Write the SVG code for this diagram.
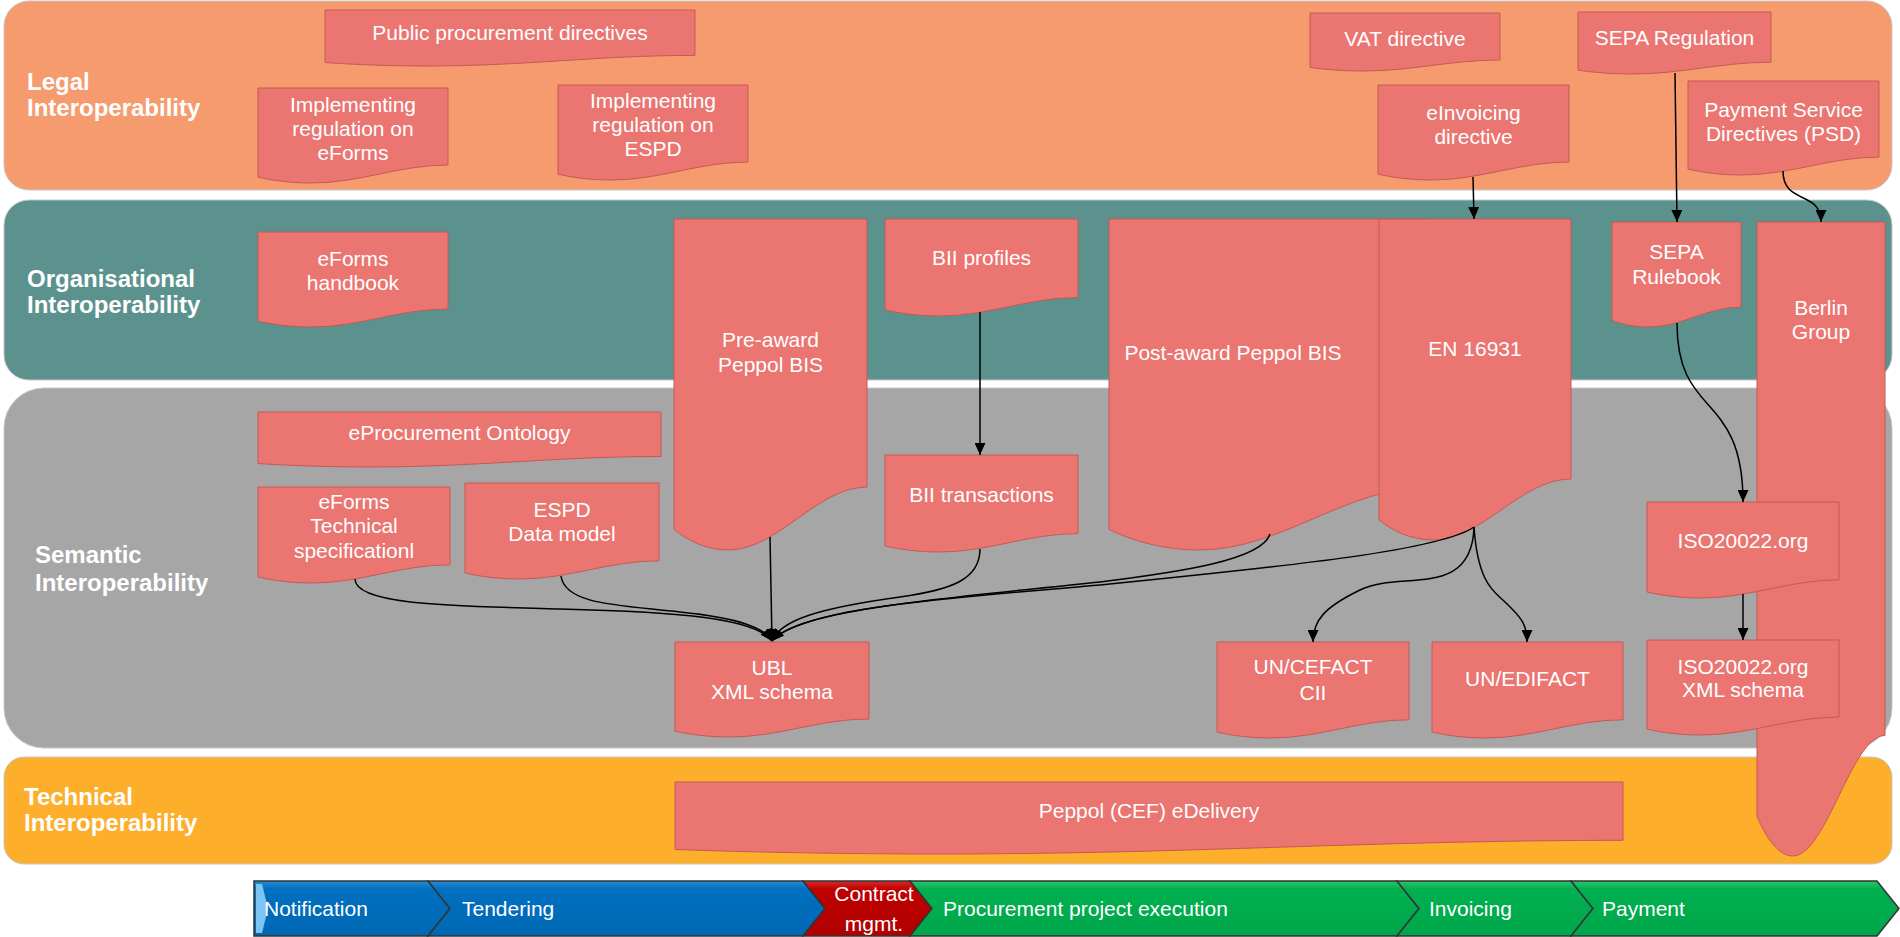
<svg xmlns="http://www.w3.org/2000/svg" width="1900" height="937" viewBox="0 0 1900 937">
<defs>
<style>
.lane{stroke:#c8c8c8;stroke-width:1}
.ll{font-family:"Liberation Sans",Arial,sans-serif;font-size:24px;font-weight:bold;fill:#fff}
.doc{fill:#EA7571;stroke:#C45A56;stroke-width:1}
.t{font-family:"Liberation Sans",Arial,sans-serif;font-size:21px;fill:#fff;text-anchor:middle}
.c{fill:none;stroke:#000;stroke-width:1.5}
.pb{stroke:#333;stroke-width:1.5}
.pt{font-family:"Liberation Sans",Arial,sans-serif;font-size:21px;fill:#fff}
</style>
<marker id="arr" viewBox="0 0 12 11" refX="12" refY="5.5" markerWidth="12" markerHeight="11" markerUnits="userSpaceOnUse" orient="auto"><path d="M0,0 L12,5.5 L0,11 Z" fill="#000"/></marker>
<linearGradient id="gB" x1="0" y1="0" x2="0" y2="1"><stop offset="0" stop-color="#2a8ad6"/><stop offset="0.15" stop-color="#0070C0"/><stop offset="1" stop-color="#0068b4"/></linearGradient>
<linearGradient id="gR" x1="0" y1="0" x2="0" y2="1"><stop offset="0" stop-color="#d42a2a"/><stop offset="0.15" stop-color="#C00000"/><stop offset="1" stop-color="#b00000"/></linearGradient>
<linearGradient id="gG" x1="0" y1="0" x2="0" y2="1"><stop offset="0" stop-color="#2cc46c"/><stop offset="0.15" stop-color="#00B050"/><stop offset="1" stop-color="#00a64b"/></linearGradient>
</defs>

<g id="lanes">
<rect id="lane-legal" class="lane" x="4" y="1" width="1888" height="189" rx="25" fill="#F59B6E"/>
<rect id="lane-org" class="lane" x="4" y="200" width="1888" height="180" rx="25" fill="#5B928D"/>
<rect id="lane-sem" class="lane" x="4" y="388" width="1888" height="360" rx="40" fill="#A6A6A6"/>
<rect id="lane-tech" class="lane" x="4" y="757" width="1888" height="107" rx="20" fill="#FDAE2B"/>
<text class="ll" x="27" y="90">Legal</text>
<text class="ll" x="27" y="116">Interoperability</text>
<text class="ll" x="27" y="287">Organisational</text>
<text class="ll" x="27" y="313">Interoperability</text>
<text class="ll" x="35" y="563">Semantic</text>
<text class="ll" x="35" y="591">Interoperability</text>
<text class="ll" x="24" y="805">Technical</text>
<text class="ll" x="24" y="831">Interoperability</text>
</g>

<g id="n-ppd"><path class="doc" d="M325,10 H695 V55.4 C598.1,55.4 525.5,66 428.6,66 C387.9,66 350.9,64.4 325,62.5 Z"/><text class="t" x="510" y="40">Public procurement directives</text></g>
<g id="n-ir-eforms"><path class="doc" d="M258,88 H448 V165 C398.2,165 361,183 311.2,183 C290.3,183 271.3,180.3 258,177.1 Z"/><text class="t" x="353" y="112">Implementing</text><text class="t" x="353" y="136">regulation on</text><text class="t" x="353" y="160">eForms</text></g>
<g id="n-ir-espd"><path class="doc" d="M558,85 H748 V162 C698.2,162 661,180 611.2,180 C590.3,180 571.3,177.3 558,174.1 Z"/><text class="t" x="653" y="108">Implementing</text><text class="t" x="653" y="132">regulation on</text><text class="t" x="653" y="156">ESPD</text></g>
<g id="n-vat"><path class="doc" d="M1310,13 H1500 V60 C1450.2,60 1413,71 1363.2,71 C1342.3,71 1323.3,69.4 1310,67.4 Z"/><text class="t" x="1405" y="46">VAT directive</text></g>
<g id="n-sepa-reg"><path class="doc" d="M1578,12 H1771 V62.2 C1720.4,62.2 1682.6,74 1632,74 C1610.8,74 1591.5,72.2 1578,70.1 Z"/><text class="t" x="1674.5" y="45">SEPA Regulation</text></g>
<g id="n-einv"><path class="doc" d="M1378,85 H1569 V162 C1519,162 1481.5,180 1431.5,180 C1410.5,180 1391.4,177.3 1378,174.1 Z"/><text class="t" x="1473.5" y="120">eInvoicing</text><text class="t" x="1473.5" y="144">directive</text></g>
<g id="n-psd"><path class="doc" d="M1688,81 H1879 V157.1 C1829,157.1 1791.5,175 1741.5,175 C1720.5,175 1701.4,172.3 1688,169.1 Z"/><text class="t" x="1783.5" y="117">Payment Service</text><text class="t" x="1783.5" y="141">Directives (PSD)</text></g>

<g id="n-eforms-hb"><path class="doc" d="M258,232 H448 V309 C398.2,309 361,327 311.2,327 C290.3,327 271.3,324.3 258,321.1 Z"/><text class="t" x="353" y="266">eForms</text><text class="t" x="353" y="290">handbook</text></g>
<g id="n-pre-award"><path class="doc" d="M674,219 H867 V487.1 C816.4,487.1 778.6,550 728,550 C706.8,550 687.5,540.6 674,529.3 Z"/><text class="t" x="770.5" y="347">Pre-award</text><text class="t" x="770.5" y="372">Peppol BIS</text></g>
<g id="n-bii-prof"><path class="doc" d="M885,219 H1078 V297.6 C1027.4,297.6 989.6,316 939,316 C917.8,316 898.5,313.2 885,309.9 Z"/><text class="t" x="981.5" y="265">BII profiles</text></g>
<g id="n-post-award"><path class="doc" d="M1109,219 H1429 V487.1 C1345.2,487.1 1282.4,550 1198.6,550 C1163.4,550 1131.4,540.6 1109,529.3 Z"/><text class="t" x="1233" y="360">Post-award Peppol BIS</text></g>
<g id="n-en16931"><path class="doc" d="M1379,219 H1571 V479 C1520.7,479 1483.1,540 1432.8,540 C1411.6,540 1392.4,530.9 1379,519.9 Z"/><text class="t" x="1475" y="356">EN 16931</text></g>
<g id="n-sepa-rb"><path class="doc" d="M1612,222 H1741 V307 C1707.2,307 1681.9,327 1648.1,327 C1633.9,327 1621,324 1612,320.4 Z"/><text class="t" x="1676.5" y="259">SEPA</text><text class="t" x="1676.5" y="284">Rulebook</text></g>
<g id="n-berlin"><path class="doc" d="M1757,222 H1885 V735.5 C1851.5,735.5 1826.4,856 1792.8,856 C1778.8,856 1766,837.9 1757,816.4 Z"/><text class="t" x="1821" y="315">Berlin</text><text class="t" x="1821" y="339">Group</text></g>

<g id="n-eproc-onto"><path class="doc" d="M258,412 H661 V456.5 C555.4,456.5 476.4,467 370.8,467 C326.5,467 286.2,465.4 258,463.5 Z"/><text class="t" x="459.5" y="440">eProcurement Ontology</text></g>
<g id="n-eforms-ts"><path class="doc" d="M258,487 H450 V564.8 C399.7,564.8 362.1,583 311.8,583 C290.6,583 271.4,580.3 258,577 Z"/><text class="t" x="354" y="509">eForms</text><text class="t" x="354" y="533">Technical</text><text class="t" x="354" y="558">specificationl</text></g>
<g id="n-espd-dm"><path class="doc" d="M465,483 H659 V560.8 C608.2,560.8 570.1,579 519.3,579 C498,579 478.6,576.3 465,573 Z"/><text class="t" x="562" y="517">ESPD</text><text class="t" x="562" y="541">Data model</text></g>
<g id="n-bii-tx"><path class="doc" d="M885,455 H1078 V533.6 C1027.4,533.6 989.6,552 939,552 C917.8,552 898.5,549.2 885,545.9 Z"/><text class="t" x="981.5" y="502">BII transactions</text></g>
<g id="n-ubl"><path class="doc" d="M675,642 H869 V719 C818.2,719 780.1,737 729.3,737 C708,737 688.6,734.3 675,731.1 Z"/><text class="t" x="772" y="675">UBL</text><text class="t" x="772" y="699">XML schema</text></g>
<g id="n-cefact"><path class="doc" d="M1217,642 H1409 V719.8 C1358.7,719.8 1321.1,738 1270.8,738 C1249.6,738 1230.4,735.3 1217,732 Z"/><text class="t" x="1313" y="674">UN/CEFACT</text><text class="t" x="1313" y="700">CII</text></g>
<g id="n-edifact"><path class="doc" d="M1432,642 H1623 V719.8 C1573,719.8 1535.5,738 1485.5,738 C1464.5,738 1445.4,735.3 1432,732 Z"/><text class="t" x="1527.5" y="686">UN/EDIFACT</text></g>
<g id="n-iso"><path class="doc" d="M1647,502 H1839 V579.8 C1788.7,579.8 1751.1,598 1700.8,598 C1679.6,598 1660.4,595.3 1647,592 Z"/><text class="t" x="1743" y="548">ISO20022.org</text></g>
<g id="n-iso-xml"><path class="doc" d="M1647,640 H1839 V717 C1788.7,717 1751.1,735 1700.8,735 C1679.6,735 1660.4,732.3 1647,729.1 Z"/><text class="t" x="1743" y="674">ISO20022.org</text><text class="t" x="1743" y="697">XML schema</text></g>

<g id="n-edelivery"><path class="doc" d="M675,782 H1623 V840.3 C1374.6,840.3 1188.8,854 940.4,854 C836.2,854 741.4,851.9 675,849.5 Z"/><text class="t" x="1149" y="818">Peppol (CEF) eDelivery</text></g>

<g id="connectors">
<path class="c" marker-end="url(#arr)" d="M980,312 L980,455"/>
<path class="c" marker-end="url(#arr)" d="M1473,177 L1474,219"/>
<path class="c" marker-end="url(#arr)" d="M1675,73 L1677,222"/>
<path class="c" marker-end="url(#arr)" d="M1783,171 C1783,205 1821,190 1821,222"/>
<path class="c" marker-end="url(#arr)" d="M1677,323 C1677,420 1743,390 1743,502"/>
<path class="c" marker-end="url(#arr)" d="M1743,594 L1743,640"/>
<path class="c" marker-end="url(#arr)" d="M1474,527 C1472,600 1400,570 1360,590 C1325,607 1313,620 1313,642"/>
<path class="c" marker-end="url(#arr)" d="M1474,527 C1478,585 1495,592 1505,602 C1522,618 1527,625 1527,642"/>
<path class="c" marker-end="url(#arr)" d="M770,537 L772,641"/>
<path class="c" marker-end="url(#arr)" d="M355,579 C355,605 450,606 560,609 C680,612 755,618 772,641"/>
<path class="c" marker-end="url(#arr)" d="M561,576 C565,605 620,605 680,612 C740,618 765,628 772,641"/>
<path class="c" marker-end="url(#arr)" d="M980,549 C980,580 950,590 900,597 C820,608 780,620 772,641"/>
<path class="c" marker-end="url(#arr)" d="M1270,534 C1262,560 1180,572 1100,582 C950,598 800,608 772,641"/>
<path class="c" marker-end="url(#arr)" d="M1474,527 C1440,550 1300,565 1100,585 C950,598 800,608 772,641"/>
</g>

<g id="process">
<path class="pb" fill="url(#gB)" d="M254,881 H428 L450,908.5 L428,936 H254 Z"/>
<path fill="#7cc4f5" d="M256,884 L262,884 L268,908.5 L262,933 L256,933 Z"/>
<path class="pb" fill="url(#gB)" d="M428,881 H803 L825,908.5 L803,936 H428 L450,908.5 Z"/>
<path class="pb" fill="url(#gR)" d="M803,881 H910 L932,908.5 L910,936 H803 L825,908.5 Z"/>
<path class="pb" fill="url(#gG)" d="M910,881 H1397 L1419,908.5 L1397,936 H910 L932,908.5 Z"/>
<path class="pb" fill="url(#gG)" d="M1397,881 H1571 L1593,908.5 L1571,936 H1397 L1419,908.5 Z"/>
<path class="pb" fill="url(#gG)" d="M1571,881 H1877 L1899,908.5 L1877,936 H1571 L1593,908.5 Z"/>
<text class="pt" x="264" y="916">Notification</text>
<text class="pt" x="462" y="916">Tendering</text>
<text class="pt" x="874" y="901" text-anchor="middle">Contract</text>
<text class="pt" x="874" y="931" text-anchor="middle">mgmt.</text>
<text class="pt" x="943" y="916">Procurement project execution</text>
<text class="pt" x="1429" y="916">Invoicing</text>
<text class="pt" x="1602" y="916">Payment</text>
</g>
</svg>
